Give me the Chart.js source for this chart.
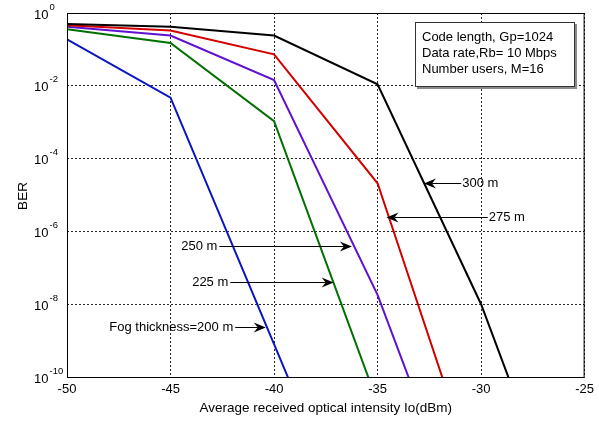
<!DOCTYPE html>
<html>
<head>
<meta charset="utf-8">
<script src="https://cdn.jsdelivr.net/npm/chart.js@4/dist/chart.umd.min.js"></script>
<style>
  html, body { margin: 0; padding: 0; background: #fff; }
  #wrap { width: 599px; height: 421px; }
</style>
</head>
<body>
<div id="wrap"><canvas id="berChart" width="599" height="421"></canvas></div>
<script>
// received optical intensity (dBm) at which BER was computed
const xValues = [-50, -45, -40, -35, -30, -25];

// BER per fog thickness (values below 1e-10 are clipped by the axis)
const ber300 = [0.50, 0.42, 0.24, 1.1e-2, 1.0e-8, 2.5e-16];
const ber275 = [0.46, 0.33, 7.3e-2, 2.1e-5, 6.3e-14];
const ber250 = [0.42, 0.24, 1.44e-2, 1.8e-8, 5.0e-16];
const ber225 = [0.36, 0.15, 1.07e-3, 2.0e-11];
const ber200 = [0.19, 4.7e-3, 8.0e-10, 1.3e-16];

const seriesColors = ["#000000", "#d40000", "#6010d0", "#007000", "#0a14c4"];

const yExponents = [0, -2, -4, -6, -8, -10];

const infoLines = ["Code length, Gp=1024", "Data rate,Rb= 10 Mbps", "Number users, M=16"];

// arrow labels: y in log10(BER), tip and text anchor in dBm
const arrowLabels = [
  { text: "300 m", logY: -4.66, tipX: -32.76, textX: -30.91, side: "right" },
  { text: "275 m", logY: -5.60, tipX: -34.57, textX: -29.63, side: "right" },
  { text: "250 m", logY: -6.39, tipX: -36.24, textX: -42.74, side: "left" },
  { text: "225 m", logY: -7.39, tipX: -37.12, textX: -42.21, side: "left" },
  { text: "Fog thickness=200 m", logY: -8.64, tipX: -40.40, textX: -41.97, side: "left" },
];

const FONT = '"Liberation Sans", Arial, sans-serif';

function toPoints(values) {
  return values.map((v, i) => ({ x: xValues[i], y: v }));
}

function drawArrowHead(ctx, tipX, tipY, dir) {
  // dir = -1 points left, +1 points right
  const len = 12, half = 5, notch = 4;
  ctx.beginPath();
  ctx.moveTo(tipX, tipY);
  ctx.lineTo(tipX - dir * len, tipY - half);
  ctx.lineTo(tipX - dir * (len - notch), tipY);
  ctx.lineTo(tipX - dir * len, tipY + half);
  ctx.closePath();
  ctx.fill();
}

const matlabLook = {
  id: "matlabLook",
  afterDraw(chart) {
    const ctx = chart.ctx;
    const area = chart.chartArea;
    const xs = chart.scales.x;
    const ys = chart.scales.y;
    ctx.save();

    // box around the axes
    ctx.strokeStyle = "#000";
    ctx.lineWidth = 1;
    ctx.setLineDash([]);
    ctx.strokeRect(area.left + 0.5, area.top + 0.5, area.right - area.left - 1, area.bottom - area.top);

    // y tick labels as 10 with superscript
    ctx.fillStyle = "#000";
    ctx.textBaseline = "middle";
    ctx.textAlign = "left";
    yExponents.forEach((e) => {
      const py = ys.getPixelForValue(Math.pow(10, e));
      ctx.font = "13px " + FONT;
      ctx.fillText("10", 34, py + 2);
      ctx.font = "9.5px " + FONT;
      ctx.fillText(String(e), 49.5, py - 6);
    });

    // y title
    ctx.font = "13.5px " + FONT;
    ctx.save();
    ctx.translate(23, 196);
    ctx.rotate(-Math.PI / 2);
    ctx.textAlign = "center";
    ctx.fillText("BER", 0, 0);
    ctx.restore();

    // info box with shadow
    const bx = 415, by = 22, bw = 160, bh = 65;
    ctx.fillStyle = "#8c8c8c";
    ctx.fillRect(bx + 2, by + 2, bw, bh);
    ctx.fillStyle = "#fff";
    ctx.fillRect(bx, by, bw, bh);
    ctx.strokeStyle = "#333";
    ctx.strokeRect(bx + 0.5, by + 0.5, bw - 1, bh - 1);
    ctx.fillStyle = "#000";
    ctx.font = "13px " + FONT;
    infoLines.forEach((t, i) => ctx.fillText(t, 422, 37 + i * 16));

    // arrow labels
    ctx.strokeStyle = "#000";
    ctx.lineWidth = 1;
    arrowLabels.forEach((a) => {
      const py = Math.round(ys.getPixelForValue(Math.pow(10, a.logY))) + 0.5;
      const tip = xs.getPixelForValue(a.tipX);
      const tx = xs.getPixelForValue(a.textX);
      ctx.font = "13px " + FONT;
      let start;
      if (a.side === "right") {
        ctx.textAlign = "left";
        ctx.fillText(a.text, tx, py);
        start = tx - 1;
      } else {
        ctx.textAlign = "right";
        ctx.fillText(a.text, tx, py);
        start = tx + 2;
      }
      const dir = tip > start ? 1 : -1;
      ctx.beginPath();
      ctx.moveTo(start, py);
      ctx.lineTo(tip - dir * 8, py);
      ctx.stroke();
      drawArrowHead(ctx, tip, py, dir);
    });

    ctx.restore();
  },
};

const allSeries = [ber300, ber275, ber250, ber225, ber200];

new Chart(document.getElementById("berChart"), {
  type: "line",
  data: {
    datasets: allSeries.map((s, i) => ({
      data: toPoints(s),
      borderColor: seriesColors[i],
      borderWidth: 2,
      pointRadius: 0,
      fill: false,
      tension: 0,
    })),
  },
  options: {
    responsive: false,
    animation: false,
    events: [],
    layout: { padding: { top: 13, right: 12, left: 0, bottom: 0 } },
    plugins: { legend: { display: false }, tooltip: { enabled: false } },
    scales: {
      x: {
        type: "linear",
        min: -50,
        max: -25,
        ticks: {
          stepSize: 5,
          color: "#000",
          font: { family: FONT, size: 13 },
          padding: 5,
          maxRotation: 0,
        },
        grid: { color: "rgba(0,0,0,0.85)", drawTicks: false },
        border: { display: false, dash: [2, 2] },
        title: {
          display: true,
          text: "Average received optical intensity Io(dBm)",
          color: "#000",
          font: { family: FONT, size: 13.5 },
          padding: { top: 0, bottom: 5 },
        },
        afterFit: (s) => { s.height = 44; },
      },
      y: {
        type: "logarithmic",
        min: 1e-10,
        max: 1,
        afterBuildTicks: (s) => {
          s.ticks = yExponents.map((e) => ({ value: Math.pow(10, e) }));
        },
        ticks: { display: false },
        grid: { color: "rgba(0,0,0,0.85)", drawTicks: false },
        border: { display: false, dash: [2, 2] },
        afterFit: (s) => { s.width = 67; },
      },
    },
  },
  plugins: [matlabLook],
});
</script>
</body>
</html>
